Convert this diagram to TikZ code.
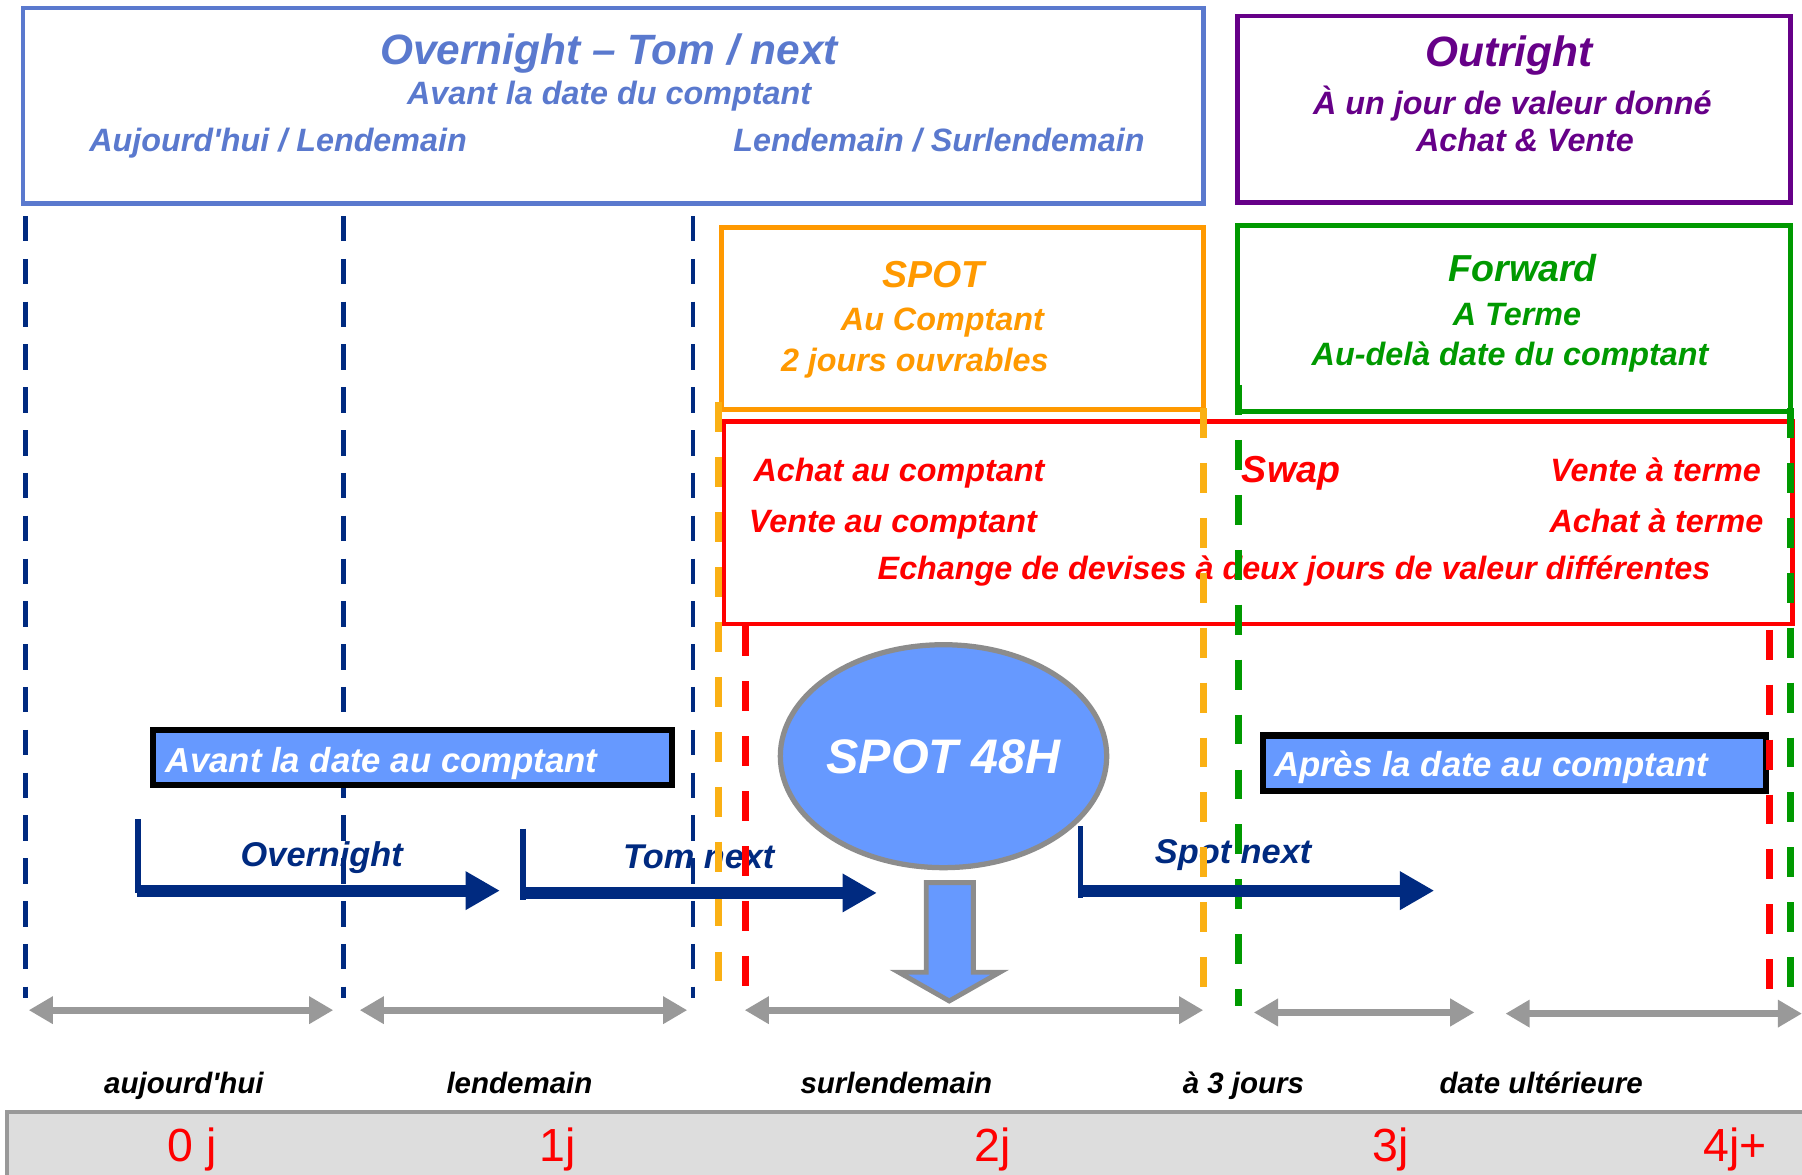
\documentclass[tikz,border=0pt]{standalone}
\usepackage{fontspec}
\setmainfont{Liberation Sans}
\usepackage{xcolor}
\usetikzlibrary{arrows.meta}
\usetikzlibrary{shapes.geometric}
\definecolor{bleuclair}{RGB}{102,153,255}
\definecolor{bleutitre}{RGB}{90,121,206}
\definecolor{marine}{RGB}{0,42,128}
\definecolor{myviolet}{RGB}{102,0,136}
\definecolor{myorange}{RGB}{255,153,0}
\definecolor{myyellow}{RGB}{250,176,20}
\definecolor{mygreen}{RGB}{0,153,0}
\definecolor{myred}{RGB}{255,0,0}
\definecolor{mygray}{RGB}{153,153,153}
\definecolor{bandgray}{RGB}{221,221,221}

\begin{document}
\begin{tikzpicture}[x=0.1mm,y=-0.1mm,
  big/.style={font=\bfseries\itshape\fontsize{10.5}{12}\selectfont, inner sep=0pt, text height=7.5pt, text depth=0pt},
  mid/.style={font=\bfseries\itshape\fontsize{9.3}{11}\selectfont, inner sep=0pt, text height=6.7pt, text depth=0pt},
  small/.style={font=\bfseries\itshape\fontsize{8}{9.6}\selectfont, inner sep=0pt, text height=5.7pt, text depth=0pt},
  navlab/.style={font=\bfseries\itshape\fontsize{8.5}{10}\selectfont, inner sep=0pt, text height=6.1pt, text depth=0pt, marine},
  daylab/.style={font=\bfseries\itshape\fontsize{7.3}{9}\selectfont, inner sep=0pt, text height=5.2pt, text depth=0pt},
  numlab/.style={font=\fontsize{11.5}{13}\selectfont, inner sep=0pt, text height=8.2pt, text depth=0pt, myred},
  whitelab/.style={font=\bfseries\itshape\fontsize{8.6}{10}\selectfont, inner sep=0pt, text height=6.2pt, text depth=0pt, white, anchor=west},
  jourline/.style={marine, line width=1.1pt, dash pattern=on 6.3pt off 4.3pt},
  colline/.style={line width=1.7pt, dash pattern=on 7.4pt off 6.2pt},
  duree/.style={mygray, line width=1.8pt, {Triangle[length=6pt,width=6.5pt]}-{Triangle[length=6pt,width=6.5pt]}},
  delai/.style={marine, line width=3pt, -{Triangle[length=8.5pt,width=9pt]}},
  bluebox/.style={fill=bleuclair, draw=black, line width=1.5pt}
  ]
  \def\ydur{879}
  \def\yjour{942}
  \def\ynum{996}
  \useasboundingbox (0,0) rectangle (1568,1022);

  %Day separators
  \foreach \x in {22,299,603}
  {
    \draw[jourline] (\x,188) -- (\x,868);
  }

  %Top boxes
  \draw[bleutitre, line width=1.2pt] (20,7) rectangle (1047,177);
  \node[big, bleutitre] (ontn) at (530,43) {Overnight – Tom / next};
  \node[small, bleutitre] (avant) at (530,81) {Avant la date du comptant};
  \node[small, bleutitre] (ajdl) at (242,122) {Aujourd\textquotesingle hui / Lendemain};
  \node[small, bleutitre] (ldsl) at (817,122) {Lendemain / Surlendemain};

  \draw[myviolet, line width=1.2pt] (1077,14) rectangle (1558,176);
  \node[big, myviolet] (outright) at (1313,45) {Outright};
  \node[small, myviolet] (valeur) at (1316,90) {À un jour de valeur donné};
  \node[small, myviolet] (achvte) at (1327,122) {Achat \& Vente};

  \draw[myorange, line width=1.2pt] (628,198) rectangle (1047,356);
  \node[mid, myorange] (spot) at (812,238) {SPOT};
  \node[small, myorange] (aucpt) at (820,278) {Au Comptant};
  \node[small, myorange] (ouvr) at (796,313) {2 jours ouvrables};

  \draw[mygreen, line width=1.2pt] (1077,196) rectangle (1558,358);
  \node[mid, mygreen] (forward) at (1325,233) {Forward};
  \node[small, mygreen] (aterme) at (1320,273) {A Terme};
  \node[small, mygreen] (audela) at (1314,308) {Au-delà date du comptant};

  %Swap box
  \draw[myred, line width=1.2pt] (630,367) rectangle (1560,543);
  \node[small, myred, anchor=west] (achcpt) at (655,409) {Achat au comptant};
  \node[small, myred, anchor=west] (vtecpt) at (651,453) {Vente au comptant};
  \node[mid, myred, anchor=west] (swap) at (1080,408) {Swap};
  \node[small, myred, anchor=east] (vteterme) at (1533,409) {Vente à terme};
  \node[small, myred, anchor=east] (achterme) at (1535,453) {Achat à terme};
  \node[small, myred] (echange) at (1126,494) {Echange de devises à deux jours de valeur différentes};

  %Before / after spot
  \draw[bluebox] (133,635) rectangle (585,683);
  \node[whitelab] (avcpt) at (143,661) {Avant la date au comptant};
  \draw[bluebox] (1099,640) rectangle (1537,688);
  \node[whitelab] (apcpt) at (1108,665) {Après la date au comptant};

  \node[navlab] (overnight) at (280,743) {Overnight};
  \node[navlab] (tomnext) at (608,745) {Tom next};
  \node[navlab] (spotnext) at (1073,741) {Spot next};

  %Spot, forward and swap limits
  \draw[colline, myyellow] (625,350) -- (625,865);
  \draw[colline, myyellow] (1047,355) -- (1047,868);
  \draw[colline, myred] (649,545) -- (649,862);
  \draw[colline, myred] (1540,548) -- (1540,868);
  \draw[colline, mygreen] (1078,335) -- (1078,875);
  \draw[colline, mygreen] (1558,355) -- (1558,870);

  %Deals
  \draw[marine, line width=1.3pt] (120,713) -- (120,777);
  \draw[delai] (119,775) -- (435,775);
  \draw[marine, line width=1.3pt] (455,721) -- (455,783);
  \draw[delai] (454,777) -- (763,777);
  \draw[marine, line width=1.3pt] (940,719) -- (940,781);
  \draw[delai] (939,775) -- (1248,775);

  %Spot 48H
  \node[ellipse, fill=bleuclair, draw=gray!90, line width=1.3pt, minimum width=28.4mm,
    minimum height=19.4mm, inner sep=0pt] (spot48) at (821,658) {};
  \node[text=white, inner sep=0pt, text height=8.6pt, text depth=0pt,
    font=\bfseries\itshape\fontsize{12}{14}\selectfont] (spot48txt) at (spot48.center) {SPOT 48H};
  \draw[gray!90, line width=1.2pt, fill=bleuclair] (806,768) -- (847,768) -- (847,846)
    -- (870,846) -- (826,871) -- (782,846) -- (806,846) -- cycle;

  %Durations
  \draw[duree] (25,\ydur) -- (290,\ydur);
  \draw[duree] (313,\ydur) -- (598,\ydur);
  \draw[duree] (648,\ydur) -- (1047,\ydur);
  \draw[duree] (1091,881) -- (1283,881);
  \draw[duree] (1310,882) -- (1568,882);

  \node[daylab] (j0) at (160,\yjour) {aujourd\textquotesingle hui};
  \node[daylab] (j1) at (452,\yjour) {lendemain};
  \node[daylab] (j2) at (780,\yjour) {surlendemain};
  \node[daylab] (j3) at (1082,\yjour) {à 3 jours};
  \node[daylab] (j4) at (1341,\yjour) {date ultérieure};

  %Day numbers
  \fill[bandgray] (6,968) rectangle (1568,1022);
  \draw[mygray, line width=1pt] (6,1022) -- (6,968) -- (1568,968);
  \node[numlab] (n0) at (167,\ynum) {0 j};
  \node[numlab] (n1) at (485,\ynum) {1j};
  \node[numlab] (n2) at (864,\ynum) {2j};
  \node[numlab] (n3) at (1210,\ynum) {3j};
  \node[numlab] (n4) at (1510,\ynum) {4j+};

\end{tikzpicture}
\end{document}
